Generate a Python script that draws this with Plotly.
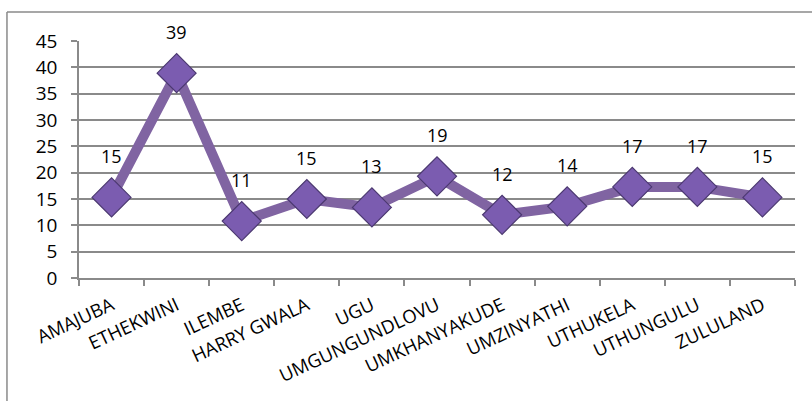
import plotly.graph_objects as go

categories = ["AMAJUBA", "ETHEKWINI", "ILEMBE", "HARRY GWALA", "UGU", "UMGUNGUNDLOVU",
              "UMKHANYAKUDE", "UMZINYATHI", "UTHUKELA", "UTHUNGULU", "ZULULAND"]
values = [15.3, 38.9, 10.8, 15.0, 13.4, 19.3, 12.0, 13.6, 17.3, 17.3, 15.3]
y_ticks = [0, 5, 10, 15, 20, 25, 30, 35, 40, 45]

FONT = "Open Sans, Liberation Sans, sans-serif"
LINE = "#8064a2"
MARK = "#7b5cb0"

fig = go.Figure()
fig.add_trace(go.Scatter(
    x=categories, y=values, mode="lines+markers",
    line=dict(color=LINE, width=10),
    marker=dict(symbol="diamond", size=30, color=MARK,
                line=dict(color="#4b3870", width=1.2)),
    hoverinfo="skip", showlegend=False,
))

for c, v in zip(categories, values):
    fig.add_annotation(x=c, y=v, text=f"{v:.0f}", showarrow=False,
                       yshift=41, font=dict(family=FONT, size=18, color="#000"))

fig.update_layout(
    width=812, height=401,
    margin=dict(l=79, r=17, t=41, b=123),
    paper_bgcolor="white", plot_bgcolor="white",
    font=dict(family=FONT, size=18, color="#000"),
    xaxis=dict(
        type="category", range=[-0.5, len(categories) - 0.5],
        tickangle=-25, tickson="boundaries",
        ticks="outside", ticklen=6, tickcolor="#8a8a8a", tickwidth=1.5,
        showline=True, linecolor="#8a8a8a", linewidth=1.5,
        showgrid=False, tickfont=dict(family=FONT, size=18.5),
        ticklabelstandoff=8, automargin=False,
    ),
    yaxis=dict(
        range=[0, 45], tickvals=y_ticks, ticks="outside", ticklen=6,
        tickcolor="#8a8a8a", tickwidth=1.5,
        showline=True, linecolor="#8a8a8a", linewidth=1.5,
        showgrid=True, gridcolor="#8a8a8a", gridwidth=1.5,
        zeroline=False, ticklabelstandoff=10,
        tickfont=dict(family=FONT, size=19), automargin=False,
    ),
)

# outer chart border (top and left edges visible)
fig.add_shape(type="line", xref="paper", yref="paper",
              x0=-0.1006, x1=1.1, y0=1.122, y1=1.122,
              line=dict(color="#8a8a8a", width=1.5))
fig.add_shape(type="line", xref="paper", yref="paper",
              x0=-0.1006, x1=-0.1006, y0=1.122, y1=-0.6,
              line=dict(color="#8a8a8a", width=1.5))

fig.write_html("out.html")
